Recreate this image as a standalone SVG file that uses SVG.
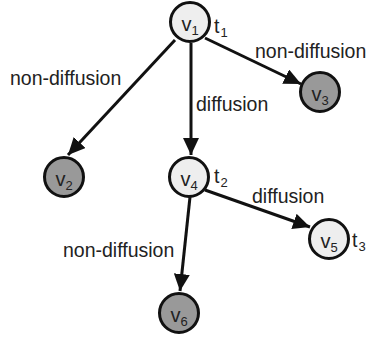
<svg xmlns="http://www.w3.org/2000/svg" width="370" height="339" viewBox="0 0 370 339">
<style>
.light{fill:#eeeeee;stroke:#111;stroke-width:3}
.dark{fill:#999999;stroke:#111;stroke-width:3}
.lbl{font-family:"Liberation Sans",Arial,sans-serif;font-size:19.5px;fill:#222}
.nl{font-family:"Liberation Sans",Arial,sans-serif;font-size:20px;fill:#222;text-anchor:middle}
.sub{font-size:13px}
.edge{stroke:#111;stroke-width:3;fill:none;marker-end:url(#arr)}
</style>
<defs>
<marker id="arr" markerUnits="userSpaceOnUse" markerWidth="18" markerHeight="16" refX="17" refY="8" orient="auto">
<path d="M0,0 L17,8 L0,16 Z" fill="#111"/>
</marker>
</defs>
<rect width="370" height="339" fill="#fff"/>
<g id="edges">
<line class="edge" x1="175" y1="40" x2="68" y2="155"/>
<line class="edge" x1="191" y1="43" x2="191" y2="155"/>
<line class="edge" x1="205" y1="38" x2="301" y2="84"/>
<line class="edge" x1="205" y1="190" x2="310" y2="227"/>
<line class="edge" x1="190" y1="197" x2="180" y2="291"/>
<text class="lbl" x="10" y="85">non-diffusion</text>
<text class="lbl" x="255" y="58">non-diffusion</text>
<text class="lbl" x="196" y="111">diffusion</text>
<text class="lbl" x="252" y="203">diffusion</text>
<text class="lbl" x="63" y="257">non-diffusion</text>
</g>
<g id="v1">
<circle class="light" cx="190" cy="22" r="19.5"/>
<text class="nl" x="190" y="31">v<tspan class="sub" dy="4">1</tspan></text>
<text class="lbl" x="214" y="33">t<tspan class="sub" dx="1" dy="4">1</tspan></text>
</g>
<g id="v2">
<circle class="dark" cx="64" cy="177" r="19.5"/>
<text class="nl" x="64" y="186">v<tspan class="sub" dy="4">2</tspan></text>
</g>
<g id="v3">
<circle class="dark" cx="320" cy="92" r="19.5"/>
<text class="nl" x="320" y="101">v<tspan class="sub" dy="4">3</tspan></text>
</g>
<g id="v4">
<circle class="light" cx="189" cy="177" r="19.5"/>
<text class="nl" x="189" y="186">v<tspan class="sub" dy="4">4</tspan></text>
<text class="lbl" x="214" y="183">t<tspan class="sub" dx="1" dy="4">2</tspan></text>
</g>
<g id="v5">
<circle class="light" cx="329" cy="239" r="19.5"/>
<text class="nl" x="329" y="248">v<tspan class="sub" dy="4">5</tspan></text>
<text class="lbl" x="352" y="247">t<tspan class="sub" dx="1" dy="4">3</tspan></text>
</g>
<g id="v6">
<circle class="dark" cx="179" cy="313" r="19.5"/>
<text class="nl" x="179" y="322">v<tspan class="sub" dy="4">6</tspan></text>
</g>
</svg>
